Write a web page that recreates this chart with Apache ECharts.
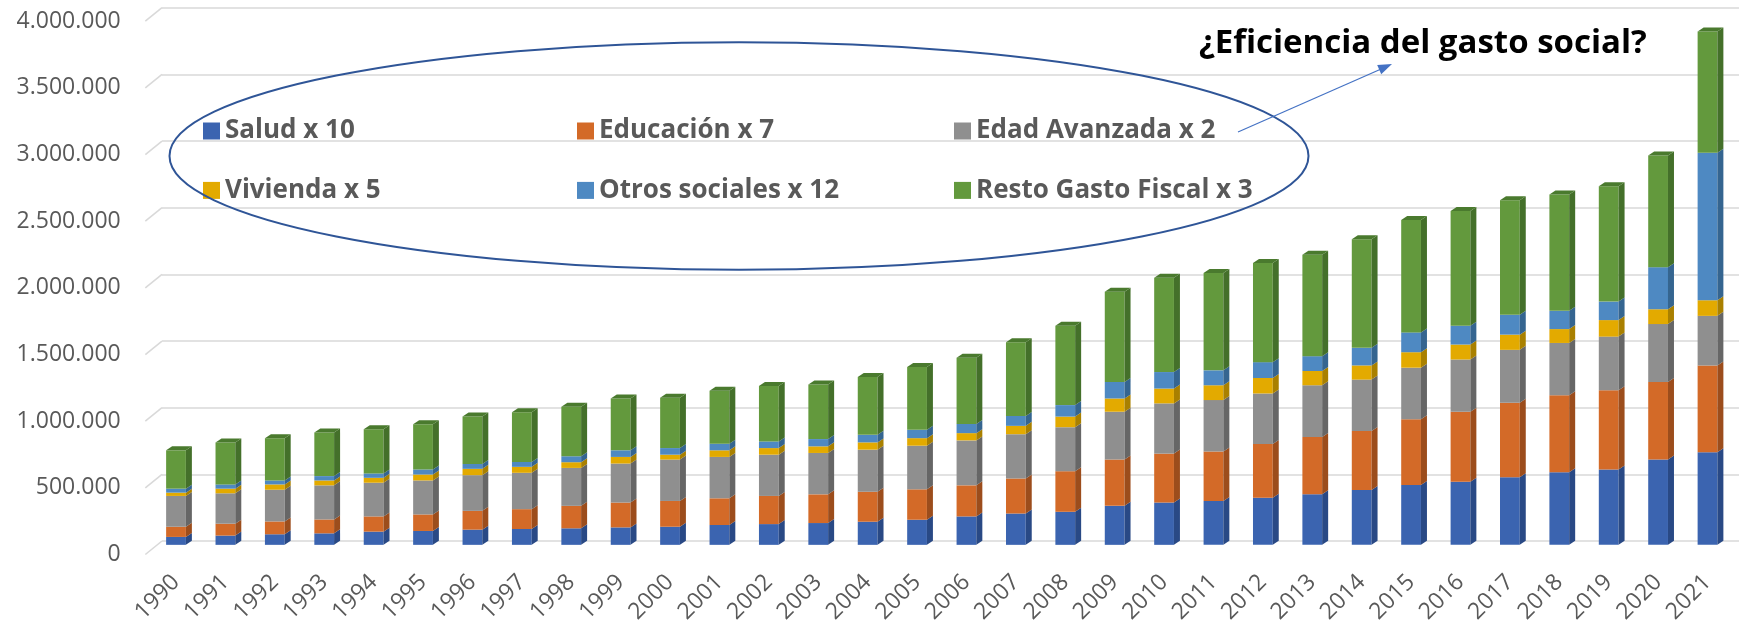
<!DOCTYPE html>
<html>
<head>
<meta charset="utf-8">
<title>Gasto fiscal</title>
<script src="https://cdn.jsdelivr.net/npm/echarts@6/dist/echarts.min.js"></script>
<style>
  html, body { margin: 0; padding: 0; background: #fff; }
  #main { width: 1739px; height: 626px; }
</style>
</head>
<body>
<div id="main"></div>
<script>
// años
var years = ['1990','1991','1992','1993','1994','1995','1996','1997','1998','1999','2000',
  '2001','2002','2003','2004','2005','2006','2007','2008','2009','2010',
  '2011','2012','2013','2014','2015','2016','2017','2018','2019','2020','2021'];

// valores (miles)
var salud = [60, 70, 80, 87, 100, 105, 115, 120, 125, 132, 137, 150, 157, 165, 175, 190,
  215, 237, 250, 295, 320, 332, 357, 382, 415, 452, 477, 512, 550, 570, 645, 700];
var educacion = [77, 90, 97, 105, 115, 125, 142, 150, 170, 188, 195, 202, 213, 217, 227, 230,
  235, 265, 307, 350, 370, 375, 405, 433, 447, 498, 530, 563, 582, 600, 587, 657];
var edadAvanzada = [233, 230, 240, 258, 255, 257, 270, 275, 287, 295, 313, 313, 312, 313, 318, 330,
  340, 335, 333, 362, 380, 388, 383, 392, 388, 390, 395, 400, 395, 405, 438, 375];
var vivienda = [25, 35, 40, 37, 37, 45, 48, 45, 43, 50, 37, 50, 50, 50, 55, 57,
  55, 63, 80, 100, 112, 112, 117, 108, 107, 117, 113, 115, 105, 125, 112, 118];
var otrosSociales = [30, 32, 30, 33, 33, 38, 37, 37, 45, 50, 50, 50, 50, 55, 57, 63,
  70, 75, 87, 125, 125, 113, 120, 112, 133, 150, 142, 150, 138, 140, 318, 1115];
var restoGasto = [290, 318, 320, 330, 335, 342, 358, 375, 375, 392, 380, 400, 420, 412, 438, 475,
  500, 557, 600, 683, 713, 737, 750, 768, 822, 850, 868, 867, 880, 872, 845, 917];

var seriesNames = ['Salud x 10', 'Educación x 7', 'Edad Avanzada x 2', 'Vivienda x 5', 'Otros sociales x 12', 'Resto Gasto Fiscal x 3'];
var seriesValues = [salud, educacion, edadAvanzada, vivienda, otrosSociales, restoGasto];

var yTicks = [0, 500000, 1000000, 1500000, 2000000, 2500000, 3000000, 3500000, 4000000];
var yTickLabels = ['0', '500.000', '1.000.000', '1.500.000', '2.000.000', '2.500.000', '3.000.000', '3.500.000', '4.000.000'];

// colores: frente, lado
var frontColors = ['#3b64b0', '#d36a28', '#8f8f8f', '#e3aa00', '#4e89c2', '#63993d'];
var sideColors = ['#294985', '#9c4d1c', '#666666', '#a98000', '#356590', '#44702a'];
var topGreen = '#4a7a2e';

var fontName = '"Open Sans", "Liberation Sans", sans-serif';

// acumulados para apilar
var cum = years.map(function(){ return 0; });
var barSeries = seriesValues.map(function(vals, k){
  var data = vals.map(function(v, i){
    var lo = cum[i];
    cum[i] = lo + v * 1000;
    return [i, lo, cum[i]];
  });
  var isLast = (k === seriesValues.length - 1);
  return {
    name: seriesNames[k],
    type: 'custom',
    xAxisIndex: 1,
    yAxisIndex: 1,
    itemStyle: { color: frontColors[k] },
    renderItem: function(params, api){
      var i = api.value(0);
      var lo = api.coord([i, api.value(1)]);
      var hi = api.coord([i, api.value(2)]);
      var w = api.size([1, 0])[0] * 0.4;
      var dx = 6, dy = 4, off = 8.3;
      var x = lo[0] - w / 2;
      var y0 = lo[1] + off, y1 = hi[1] + off;
      var children = [
        { type: 'rect', shape: { x: x, y: y1, width: w, height: y0 - y1 }, style: { fill: frontColors[k] } },
        { type: 'polygon', shape: { points: [[x + w, y1], [x + w + dx, y1 - dy], [x + w + dx, y0 - dy], [x + w, y0]] },
          style: { fill: sideColors[k] } }
      ];
      if (isLast) {
        children.push({ type: 'polygon', shape: { points: [[x, y1], [x + dx, y1 - dy], [x + w + dx, y1 - dy], [x + w, y1]] },
          style: { fill: topGreen } });
      }
      return { type: 'group', children: children };
    },
    data: data,
    z: 3
  };
});

// lineas inclinadas del piso junto a las etiquetas
var floorTicks = {
  type: 'custom',
  xAxisIndex: 0,
  yAxisIndex: 0,
  silent: true,
  renderItem: function(params, api){
    var p = api.coord([0, api.value(1)]);
    return { type: 'line', shape: { x1: p[0], y1: p[1], x2: p[0] - 16.7, y2: p[1] + 13.5 },
      style: { stroke: '#d9d9d9', lineWidth: 1.6 } };
  },
  data: yTicks.map(function(v){ return [0, v]; }),
  z: 1
};

var legendText = { fontFamily: fontName, fontWeight: 'bold', fontSize: 26, color: '#595959', lineHeight: 26 };
function makeLegend(left, names){
  return {
    orient: 'vertical', left: left, top: 118, itemGap: 33.4, padding: 0,
    itemWidth: 17, itemHeight: 17, icon: 'rect', selectedMode: false,
    textStyle: legendText, data: names
  };
}

var option = {
  backgroundColor: '#ffffff',
  animation: false,
  grid: [
    { left: 162, right: 0, top: 7.7, bottom: 85 },       // pared del fondo
    { left: 151.3, right: 6.8, top: 7.7, bottom: 85 },   // columnas
    { left: 145, right: 0, top: 21.2, bottom: 71.5 }     // borde frontal (etiquetas)
  ],
  xAxis: [
    { type: 'value', gridIndex: 0, min: 0, max: 1, show: false },
    { type: 'category', gridIndex: 1, data: years,
      axisLine: { show: false }, axisTick: { show: false },
      axisLabel: { rotate: 45, margin: 42, fontFamily: fontName, fontSize: 23, color: '#595959', interval: 0 } },
    { type: 'value', gridIndex: 2, min: 0, max: 1, show: false }
  ],
  yAxis: [
    { type: 'value', gridIndex: 0, min: 0, max: 4000000, interval: 500000,
      axisLine: { show: false }, axisTick: { show: false }, axisLabel: { show: false },
      splitLine: { lineStyle: { color: '#d9d9d9', width: 1.6 } } },
    { type: 'value', gridIndex: 1, min: 0, max: 4000000, interval: 500000, show: false },
    { type: 'value', gridIndex: 2, min: 0, max: 4000000, interval: 500000,
      axisLine: { show: false }, axisTick: { show: false }, splitLine: { show: false },
      axisLabel: { margin: 24.3, fontFamily: fontName, fontSize: 23, color: '#595959',
        formatter: function(v){ return yTickLabels[yTicks.indexOf(v)]; } } }
  ],
  legend: [
    makeLegend(203, [seriesNames[0], seriesNames[3]]),
    makeLegend(577, [seriesNames[1], seriesNames[4]]),
    makeLegend(954, [seriesNames[2], seriesNames[5]])
  ],
  graphic: [
    { type: 'ellipse', shape: { cx: 739, cy: 156, rx: 569.5, ry: 113.8 },
      style: { fill: null, stroke: '#2f5597', lineWidth: 2 }, z: 10 },
    { type: 'line', shape: { x1: 1238, y1: 132, x2: 1380, y2: 69.5 },
      style: { stroke: '#4472c4', lineWidth: 1.2 }, z: 10 },
    { type: 'polygon', shape: { points: [[1392, 64], [1381.2, 74.3], [1377.2, 65.1]] },
      style: { fill: '#4472c4' }, z: 10 },
    { type: 'text', x: 1199, y: 44,
      style: { text: '¿Eficiencia del gasto social?', font: 'bold 33px ' + fontName, fill: '#000000',
        textAlign: 'left', textVerticalAlign: 'middle' }, z: 10 }
  ],
  series: [floorTicks].concat(barSeries)
};

echarts.init(document.getElementById('main'), null, { renderer: 'canvas' }).setOption(option);
</script>
</body>
</html>
